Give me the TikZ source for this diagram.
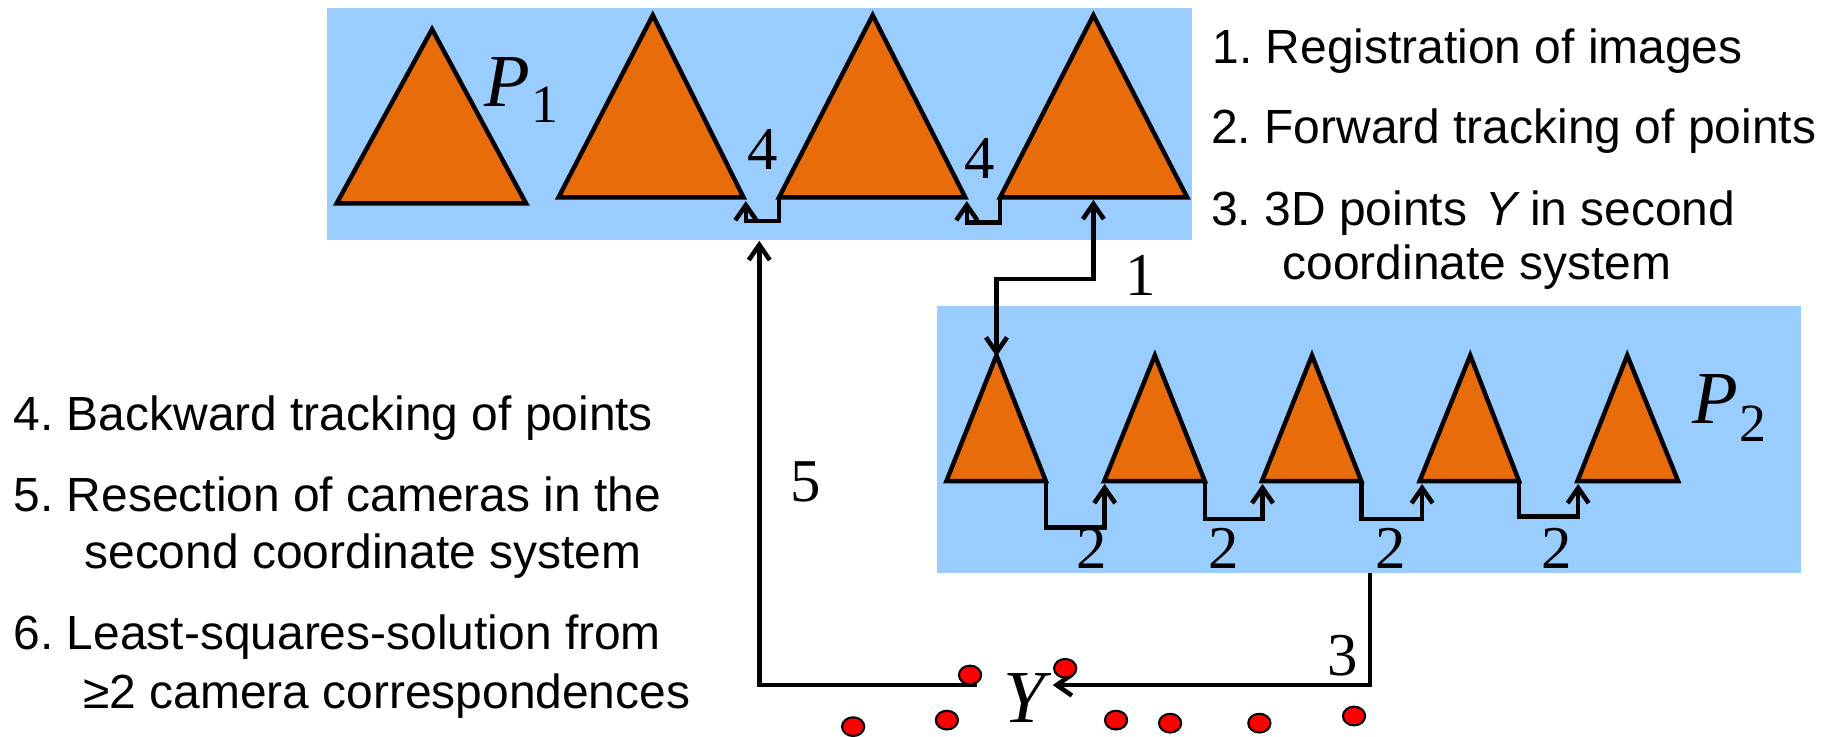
\documentclass[tikz,border=0pt]{standalone}
\usepackage{fontspec}
\setmainfont{Liberation Sans}
\newfontfamily\tnr{Liberation Serif}
\usetikzlibrary{arrows.meta}
\definecolor{boxblue}{HTML}{99CCFF}
\definecolor{camorange}{HTML}{E96C0B}
\definecolor{dotred}{HTML}{FF0000}
\frenchspacing
\begin{document}
\begin{tikzpicture}[x=1pt,y=-1pt,
  panel/.style={fill=boxblue,draw=none},
  cam/.style={fill=camorange,draw=black,line width=3.8pt,line join=miter},
  conn/.style={draw=black,line width=3.9pt,line join=miter,
    -{Straight Barb[length=13pt,width=18pt,line width=3.9pt]}},
  conntwo/.style={draw=black,line width=3.9pt,line join=miter,
    {Straight Barb[length=13pt,width=18pt,line width=3.9pt]}-{Straight Barb[length=13pt,width=18pt,line width=3.9pt]}},
  num/.style={font=\tnr\fontsize{52}{52}\selectfont,inner sep=0pt},
  sym/.style={font=\tnr\itshape\fontsize{64}{64}\selectfont,inner sep=0pt},
  listtext/.style={font=\fontsize{41}{41}\selectfont,inner sep=0pt,anchor=base west},
  dot/.style={fill=dotred,draw=black,line width=1.8pt}]
\useasboundingbox (0,0) rectangle (1568,630);

% panels
\fill[panel] (280,7) rectangle (1020,205);
\fill[panel] (801.5,262) rectangle (1541,490.5);

% P1 cameras
\draw[cam] (288,174) -- (369.6,25) -- (450,174) -- cycle;
\draw[cam] (477.8,168.8) -- (558.4,13) -- (636,168.8) -- cycle;
\draw[cam] (666.4,168.8) -- (746.5,13) -- (825.7,168.8) -- cycle;
\draw[cam] (855.5,168.8) -- (935.3,13) -- (1015.5,168.8) -- cycle;
\coordinate (T3bl) at (666.4,168.8);
\coordinate (T4bl) at (855.5,168.8);
\coordinate (T2tip) at (638,172);
\coordinate (T3tip) at (827,172);
\coordinate (k4a) at (638,189);
\coordinate (k4b) at (827,190.5);
\coordinate (T4b) at (935.3,171);

% P2 cameras
\draw[cam] (809.6,411.5) -- (852.4,304) -- (894.6,411.5) -- cycle;
\draw[cam] (944.6,411.5) -- (987.9,304) -- (1030.6,411.5) -- cycle;
\draw[cam] (1079.5,411.5) -- (1122.3,304) -- (1164.5,411.5) -- cycle;
\draw[cam] (1214.4,411.5) -- (1257.7,304) -- (1299.4,411.5) -- cycle;
\draw[cam] (1349.4,411.5) -- (1392,304) -- (1435.5,411.5) -- cycle;
\coordinate (Aap) at (852.4,305);
\coordinate (Abr) at (894.6,411.5);
\coordinate (Bbr) at (1030.6,411.5);
\coordinate (Cbr) at (1164.5,411.5);
\coordinate (Dbr) at (1299.4,411.5);
\coordinate (Bbl) at (945,414);
\coordinate (Cbl) at (1080,414);
\coordinate (Dbl) at (1216.5,414);
\coordinate (Ebl) at (1350,414);
\coordinate (k2a) at (945,451);
\coordinate (k2b) at (1080,444);
\coordinate (k2c) at (1216.5,444);
\coordinate (k2d) at (1350,442);

% connectors 4
\draw[conn] (T3bl) |- (k4a) -- (T2tip);
\draw[conn] (T4bl) |- (k4b) -- (T3tip);
% connectors 2
\draw[conn] (Abr) |- (k2a) -- (Bbl);
\draw[conn] (Bbr) |- (k2b) -- (Cbl);
\draw[conn] (Cbr) |- (k2c) -- (Dbl);
\draw[conn] (Dbr) |- (k2d) -- (Ebl);
% connector 1
\coordinate (k1) at (852.4,238.8);
\draw[conntwo] (T4b) |- (k1) -- (Aap);
% connector 3
\coordinate (P2bot) at (1172,490.5);
\coordinate (Ytip) at (900.5,586);
\draw[conn] (P2bot) |- (Ytip);
% connector 5
\coordinate (Ystart) at (836,586);
\coordinate (P1tip) at (649.5,206);
\draw[conn] (Ystart) -| (P1tip);

% labels
\node[num] (l4a) at (652,128) {4};
\node[num] (l4b) at (838,136) {4};
\node[num] (l1) at (976,236) {1};
\node[num] (l5) at (689,412) {5};
\node[num] (l3) at (1148.5,561) {3};
\node[num] (l2a) at (934,469) {2};
\node[num] (l2b) at (1047,469) {2};
\node[num] (l2c) at (1190,469) {2};
\node[num] (l2d) at (1332,469) {2};

\node[sym,anchor=base west] (P1) at (414,91) {P\kern1pt\raisebox{-14pt}{\upshape\fontsize{46}{46}\selectfont 1}};
\node[sym,anchor=base west] (P2) at (1448,362) {P\kern1pt\raisebox{-16pt}{\upshape\fontsize{46}{46}\selectfont 2}};
\node[sym,anchor=base] (Y) at (876,618) {Y};

% 3D points
\foreach \px/\py [count=\i] in {829.8/577.4, 911.2/571.7, 729.8/621.6, 810/616, 954.7/616, 1000.9/618.6, 1077.3/618.6, 1158.3/612.5}
  \draw[dot] (\px,\py) ellipse [x radius=9.5, y radius=8];

% lists
\node[listtext] (r1) at (1037,54) {1. Registration of images};
\node[listtext] (r2) at (1036,123) {2. Forward tracking of points};
\node[listtext] (r3) at (1036,192.5) {3. 3D points\hspace{16pt}\textit{Y}\hspace{8pt}in second};
\node[listtext] (r4) at (1097,239.5) {coordinate system};

\node[listtext] (q1) at (11.5,368.4) {4. Backward tracking of points};
\node[listtext] (q2) at (11.5,437.7) {5. Resection of cameras in the};
\node[listtext] (q3) at (72,486.2) {second coordinate system};
\node[listtext] (q4) at (11.5,556) {6. Least-squares-solution from};
\node[listtext] (q5) at (71,606) {≥2 camera correspondences};
\end{tikzpicture}
\end{document}
